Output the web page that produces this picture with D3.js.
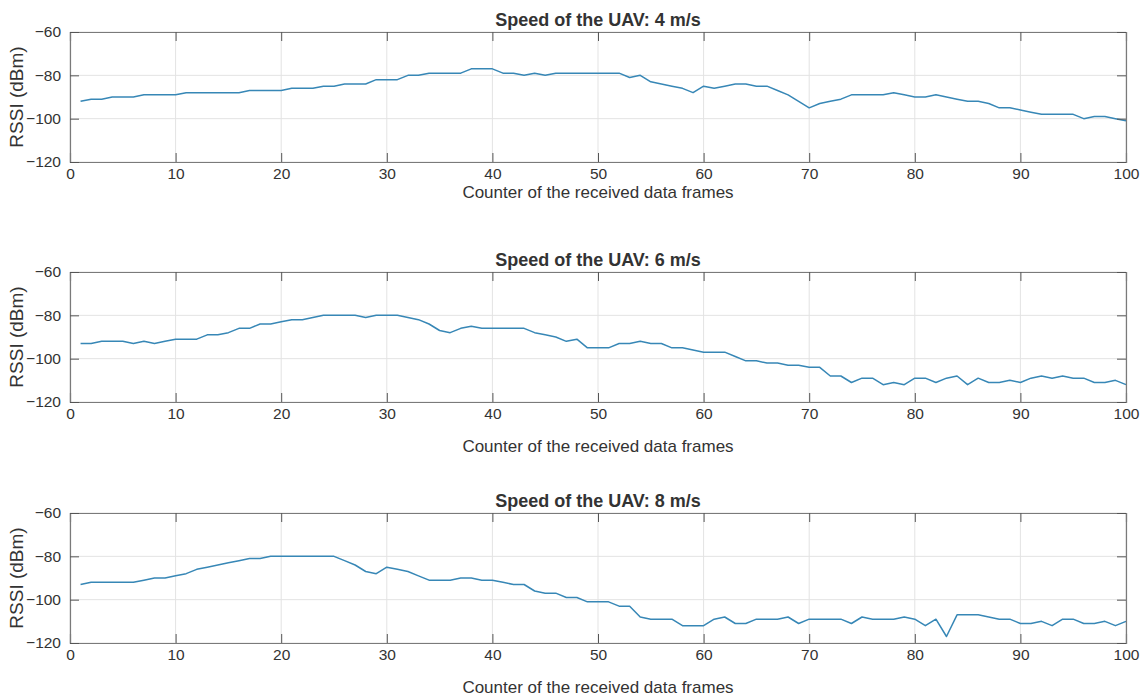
<!DOCTYPE html>
<html>
<head>
<meta charset="utf-8">
<script src="https://cdn.jsdelivr.net/npm/d3@7"></script>
<style>
body { margin: 0; background: #fff; }
text { font-family: "Liberation Sans", Arial, sans-serif; fill: #333; }
</style>
</head>
<body>
<div id="chart"></div>
<script>
// counter of received frames, one RSSI value per frame
var frames = d3.range(1, 101);

var rssi4 = [-92,-91,-91,-90,-90,-90,-89,-89,-89,-89,
  -88,-88,-88,-88,-88,-88,-87,-87,-87,-87,
  -86,-86,-86,-85,-85,-84,-84,-84,-82,-82,
  -82,-80,-80,-79,-79,-79,-79,-77,-77,-77,
  -79,-79,-80,-79,-80,-79,-79,-79,-79,-79,
  -79,-79,-81,-80,-83,-84,-85,-86,-88,-85,
  -86,-85,-84,-84,-85,-85,-87,-89,-92,-95,
  -93,-92,-91,-89,-89,-89,-89,-88,-89,-90,
  -90,-89,-90,-91,-92,-92,-93,-95,-95,-96,
  -97,-98,-98,-98,-98,-100,-99,-99,-100,-101];

var rssi6 = [-93,-93,-92,-92,-92,-93,-92,-93,-92,-91,
  -91,-91,-89,-89,-88,-86,-86,-84,-84,-83,
  -82,-82,-81,-80,-80,-80,-80,-81,-80,-80,
  -80,-81,-82,-84,-87,-88,-86,-85,-86,-86,
  -86,-86,-86,-88,-89,-90,-92,-91,-95,-95,
  -95,-93,-93,-92,-93,-93,-95,-95,-96,-97,
  -97,-97,-99,-101,-101,-102,-102,-103,-103,-104,
  -104,-108,-108,-111,-109,-109,-112,-111,-112,-109,
  -109,-111,-109,-108,-112,-109,-111,-111,-110,-111,
  -109,-108,-109,-108,-109,-109,-111,-111,-110,-112];

var rssi8 = [-93,-92,-92,-92,-92,-92,-91,-90,-90,-89,
  -88,-86,-85,-84,-83,-82,-81,-81,-80,-80,
  -80,-80,-80,-80,-80,-82,-84,-87,-88,-85,
  -86,-87,-89,-91,-91,-91,-90,-90,-91,-91,
  -92,-93,-93,-96,-97,-97,-99,-99,-101,-101,
  -101,-103,-103,-108,-109,-109,-109,-112,-112,-112,
  -109,-108,-111,-111,-109,-109,-109,-108,-111,-109,
  -109,-109,-109,-111,-108,-109,-109,-109,-108,-109,
  -112,-109,-117,-107,-107,-107,-108,-109,-109,-111,
  -111,-110,-112,-109,-109,-111,-111,-110,-112,-110];

var titles = ["Speed of the UAV: 4 m/s", "Speed of the UAV: 6 m/s", "Speed of the UAV: 8 m/s"];
var xTicks = [0, 10, 20, 30, 40, 50, 60, 70, 80, 90, 100];
var yTicks = [-120, -100, -80, -60];
var xLabel = "Counter of the received data frames";
var yLabel = "RSSI (dBm)";

var width = 1143, height = 696;
var left = 70, right = 1126, plotH = 130;
var tops = [32, 272, 513];
var labelGap = [36, 50, 50];
var series = [rssi4, rssi6, rssi8];

var svg = d3.select("#chart").append("svg")
  .attr("width", width).attr("height", height);

var x = d3.scaleLinear().domain([0, 100]).range([left, right]);

series.forEach(function(values, i) {
  var top = tops[i];
  var y = d3.scaleLinear().domain([-120, -60]).range([top + plotH, top]);
  var g = svg.append("g");

  // grid
  g.selectAll(".gx").data(xTicks).enter().append("line")
    .attr("x1", function(d) { return x(d); }).attr("x2", function(d) { return x(d); })
    .attr("y1", top).attr("y2", top + plotH)
    .attr("stroke", "#e3e3e3").attr("stroke-width", 1);
  g.selectAll(".gy").data(yTicks).enter().append("line")
    .attr("y1", function(d) { return y(d); }).attr("y2", function(d) { return y(d); })
    .attr("x1", left).attr("x2", right)
    .attr("stroke", "#e3e3e3").attr("stroke-width", 1);

  // data line
  var line = d3.line()
    .x(function(d, j) { return x(frames[j]); })
    .y(function(d) { return y(d); });
  g.append("path").datum(values)
    .attr("d", line)
    .attr("fill", "none")
    .attr("stroke", "#3787b6")
    .attr("stroke-width", 1.5)
    .attr("stroke-linejoin", "round");

  // axes with inward ticks on all sides
  var bottomAxis = g.append("g").attr("transform", "translate(0," + (top + plotH) + ")")
    .call(d3.axisBottom(x).tickValues(xTicks).tickSize(-9).tickPadding(6).tickFormat(d3.format("d")));
  var topAxis = g.append("g").attr("transform", "translate(0," + top + ")")
    .call(d3.axisTop(x).tickValues(xTicks).tickSize(-9).tickFormat(""));
  var leftAxis = g.append("g").attr("transform", "translate(" + left + ",0)")
    .call(d3.axisLeft(y).tickValues(yTicks).tickSize(-9).tickPadding(9));
  var rightAxis = g.append("g").attr("transform", "translate(" + right + ",0)")
    .call(d3.axisRight(y).tickValues(yTicks).tickSize(-9).tickFormat(""));

  [bottomAxis, topAxis, leftAxis, rightAxis].forEach(function(a) {
    a.select(".domain").attr("stroke", "#7a7a7a").attr("stroke-width", 1.2);
    a.selectAll(".tick line").attr("stroke", "#555");
    a.selectAll("text").attr("font-size", 15.5).attr("fill", "#333")
      .attr("font-family", "'Liberation Sans', Arial, sans-serif");
  });

  // title
  g.append("text")
    .attr("x", (left + right) / 2).attr("y", top - 6)
    .attr("text-anchor", "middle")
    .attr("font-size", 18).attr("font-weight", "bold")
    .attr("fill", "#111")
    .text(titles[i]);

  // x label
  g.append("text")
    .attr("x", (left + right) / 2).attr("y", top + plotH + labelGap[i])
    .attr("text-anchor", "middle")
    .attr("font-size", 17)
    .text(xLabel);

  // y label
  g.append("text")
    .attr("transform", "translate(23," + (top + plotH / 2) + ") rotate(-90)")
    .attr("text-anchor", "middle")
    .attr("font-size", 19)
    .text(yLabel);
});
</script>
</body>
</html>
